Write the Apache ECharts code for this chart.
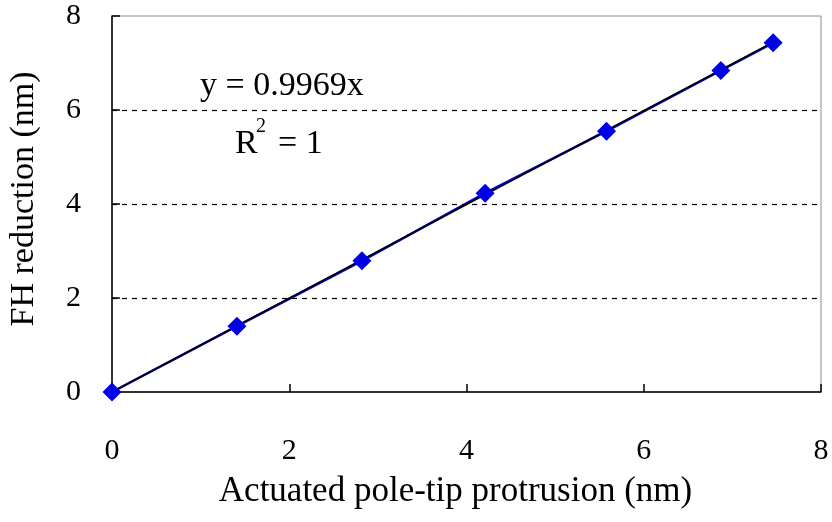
<!DOCTYPE html>
<html><head><meta charset="utf-8">
<script src="https://cdn.jsdelivr.net/npm/echarts@6/dist/echarts.min.js"></script>
<style>html,body{margin:0;padding:0;background:#fff}#c{width:832px;height:522px}</style>
</head><body><div id="c"></div>
<script>
var xValues = [0, 1.41, 2.82, 4.21, 5.58, 6.87, 7.46];
var yValues = [0, 1.40, 2.79, 4.23, 5.55, 6.84, 7.43];
var trendX = [0, 7.46];
var trendY = [0, 7.44];
var gridValues = [2, 4, 6];
var xTicks = [0, 2, 4, 6, 8];
var yTicks = [0, 2, 4, 6, 8];
var eqText = 'y = 0.9969x';

var font = '"Liberation Serif", "DejaVu Serif", serif';
var chart = echarts.init(document.getElementById('c'), null, {renderer: 'canvas'});
var pts = xValues.map(function (x, i) { return [x, yValues[i]]; });
var trend = trendX.map(function (x, i) { return [x, trendY[i]]; });

chart.setOption({
  backgroundColor: '#fff',
  animation: false,
  grid: {left: 112, right: 11, top: 16, bottom: 130, containLabel: false, outerBoundsMode: 'none',
         show: true, borderColor: '#8c8c8c', borderWidth: 1, backgroundColor: 'transparent'},
  xAxis: {
    type: 'value', min: xTicks[0], max: xTicks[xTicks.length - 1], interval: 2,
    name: 'Actuated pole-tip protrusion (nm)', nameLocation: 'middle', nameGap: 82,
    nameTextStyle: {fontFamily: font, fontSize: 35, color: '#000', padding: [0, 22, 0, 0]},
    axisLine: {lineStyle: {color: '#000', width: 1.5}},
    axisTick: {inside: true, length: 8, lineStyle: {color: '#000', width: 1.5}},
    axisLabel: {fontFamily: font, fontSize: 30, color: '#000', margin: 44},
    splitLine: {show: false}
  },
  yAxis: {
    type: 'value', min: yTicks[0], max: yTicks[yTicks.length - 1], interval: 2,
    name: 'FH reduction (nm)', nameLocation: 'middle', nameGap: 71,
    nameTextStyle: {fontFamily: font, fontSize: 34, color: '#000', padding: [0, 0, 0, 10]},
    axisLine: {lineStyle: {color: '#000', width: 1.5}},
    axisTick: {inside: true, length: 8, lineStyle: {color: '#000', width: 1.5}},
    axisLabel: {fontFamily: font, fontSize: 30, color: '#000', margin: 31},
    splitLine: {show: false}
  },
  graphic: [
    {type: 'text', left: 200, top: 69, style: {text: eqText, font: '34px ' + font, fill: '#000'}},
    {type: 'text', left: 235, top: 127, style: {text: 'R', font: '34px ' + font, fill: '#000'}},
    {type: 'text', left: 256, top: 117, style: {text: '2', font: '20px ' + font, fill: '#000'}},
    {type: 'text', left: 278, top: 127, style: {text: '= 1', font: '34px ' + font, fill: '#000'}}
  ],
  series: [
    {
      type: 'line', data: pts, symbol: 'none', z: 3,
      lineStyle: {color: '#0000e0', width: 2.5},
      markLine: {
        silent: true, symbol: 'none', label: {show: false},
        lineStyle: {color: '#000', type: [5, 5], width: 1.2},
        data: gridValues.map(function (v) { return {yAxis: v}; })
      }
    },
    {
      type: 'line', data: trend, symbol: 'none', z: 4,
      lineStyle: {color: '#000', width: 1.8}
    },
    {
      type: 'scatter', data: pts, symbol: 'diamond', symbolSize: 19, z: 5,
      itemStyle: {color: '#0000e6', opacity: 1}
    }
  ]
});
</script></body></html>
